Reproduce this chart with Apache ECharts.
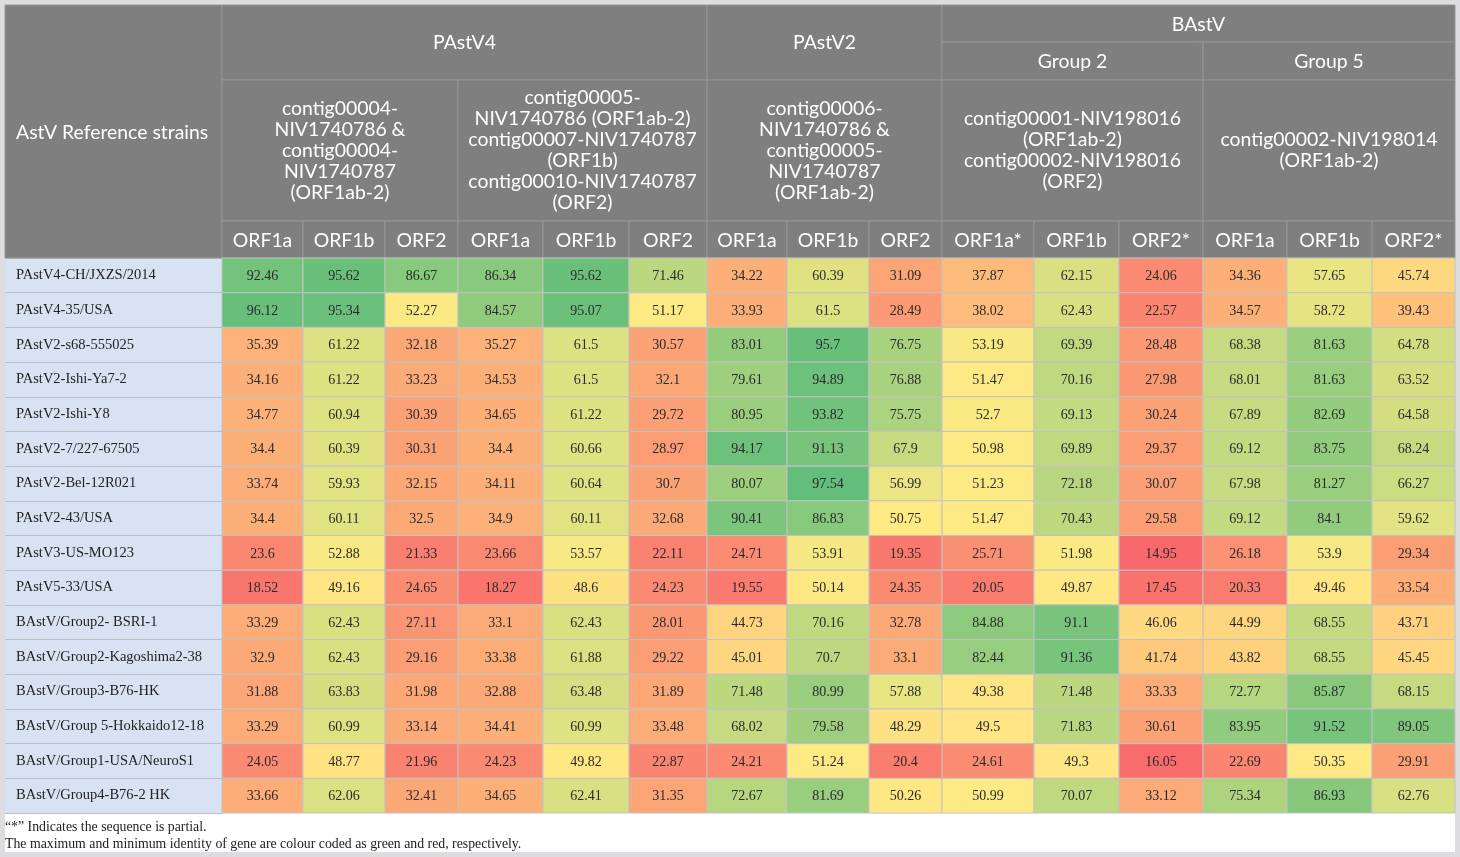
<!DOCTYPE html>
<html>
<head>
<meta charset="utf-8">
<script src="https://cdn.jsdelivr.net/npm/echarts@6/dist/echarts.min.js"></script>
<style>
html,body{margin:0;padding:0;background:#dddde0;}
#chart{width:1460px;height:857px;}
</style>
</head>
<body>
<div id="chart"></div>
<script>
// ---------- DATA ----------
const strains = [
  'PAstV4-CH/JXZS/2014','PAstV4-35/USA','PAstV2-s68-555025','PAstV2-Ishi-Ya7-2',
  'PAstV2-Ishi-Y8','PAstV2-7/227-67505','PAstV2-Bel-12R021','PAstV2-43/USA',
  'PAstV3-US-MO123','PAstV5-33/USA','BAstV/Group2- BSRI-1','BAstV/Group2-Kagoshima2-38',
  'BAstV/Group3-B76-HK','BAstV/Group 5-Hokkaido12-18','BAstV/Group1-USA/NeuroS1','BAstV/Group4-B76-2 HK'
];
const genes = ['ORF1a','ORF1b','ORF2','ORF1a','ORF1b','ORF2','ORF1a','ORF1b','ORF2',
  'ORF1a*','ORF1b','ORF2*','ORF1a','ORF1b','ORF2*'];
const virusGroups = ['PAstV4','PAstV2','BAstV'];
const subGroups = ['Group 2','Group 5'];
const contigs = [
  'contig00004-\nNIV1740786 &\ncontig00004-\nNIV1740787\n(ORF1ab-2)',
  'contig00005-\nNIV1740786 (ORF1ab-2)\ncontig00007-NIV1740787\n(ORF1b)\ncontig00010-NIV1740787\n(ORF2)',
  'contig00006-\nNIV1740786 &\ncontig00005-\nNIV1740787\n(ORF1ab-2)',
  'contig00001-NIV198016\n(ORF1ab-2)\ncontig00002-NIV198016\n(ORF2)',
  'contig00002-NIV198014\n(ORF1ab-2)'
];
const firstHeader = 'AstV Reference strains';
const notes = ['\u201c*\u201d Indicates the sequence is partial.',
  'The maximum and minimum identity of gene are colour coded as green and red, respectively.'];

const row01 = [92.46,95.62,86.67,86.34,95.62,71.46,34.22,60.39,31.09,37.87,62.15,24.06,34.36,57.65,45.74];
const row02 = [96.12,95.34,52.27,84.57,95.07,51.17,33.93,61.5,28.49,38.02,62.43,22.57,34.57,58.72,39.43];
const row03 = [35.39,61.22,32.18,35.27,61.5,30.57,83.01,95.7,76.75,53.19,69.39,28.48,68.38,81.63,64.78];
const row04 = [34.16,61.22,33.23,34.53,61.5,32.1,79.61,94.89,76.88,51.47,70.16,27.98,68.01,81.63,63.52];
const row05 = [34.77,60.94,30.39,34.65,61.22,29.72,80.95,93.82,75.75,52.7,69.13,30.24,67.89,82.69,64.58];
const row06 = [34.4,60.39,30.31,34.4,60.66,28.97,94.17,91.13,67.9,50.98,69.89,29.37,69.12,83.75,68.24];
const row07 = [33.74,59.93,32.15,34.11,60.64,30.7,80.07,97.54,56.99,51.23,72.18,30.07,67.98,81.27,66.27];
const row08 = [34.4,60.11,32.5,34.9,60.11,32.68,90.41,86.83,50.75,51.47,70.43,29.58,69.12,84.1,59.62];
const row09 = [23.6,52.88,21.33,23.66,53.57,22.11,24.71,53.91,19.35,25.71,51.98,14.95,26.18,53.9,29.34];
const row10 = [18.52,49.16,24.65,18.27,48.6,24.23,19.55,50.14,24.35,20.05,49.87,17.45,20.33,49.46,33.54];
const row11 = [33.29,62.43,27.11,33.1,62.43,28.01,44.73,70.16,32.78,84.88,91.1,46.06,44.99,68.55,43.71];
const row12 = [32.9,62.43,29.16,33.38,61.88,29.22,45.01,70.7,33.1,82.44,91.36,41.74,43.82,68.55,45.45];
const row13 = [31.88,63.83,31.98,32.88,63.48,31.89,71.48,80.99,57.88,49.38,71.48,33.33,72.77,85.87,68.15];
const row14 = [33.29,60.99,33.14,34.41,60.99,33.48,68.02,79.58,48.29,49.5,71.83,30.61,83.95,91.52,89.05];
const row15 = [24.05,48.77,21.96,24.23,49.82,22.87,24.21,51.24,20.4,24.61,49.3,16.05,22.69,50.35,29.91];
const row16 = [33.66,62.06,32.41,34.65,62.41,31.35,72.67,81.69,50.26,50.99,70.07,33.12,75.34,86.93,62.76];
const rows = [row01,row02,row03,row04,row05,row06,row07,row08,row09,row10,row11,row12,row13,row14,row15,row16];

// ---------- LAYOUT (pixels) ----------
const colWidths = [81,82,73,85,86,78,80,82,73,92,85,84,84,85,83];
const L = 222, R = 1455, TOP = 5, DATA_TOP = 258, DATA_BOT = 813, OUT = 5;
const HEAD_Y = [5, 42, 80, 221, 258];
const colEdges = [0];
colWidths.forEach(w => colEdges.push(colEdges[colEdges.length-1] + w));
const X = i => L + colEdges[i];

// ---------- build series data ----------
const cells = [];
const allVals = [];
rows.forEach((r, ri) => r.forEach((v, ci) => { cells.push([ci, ri, v]); allVals.push(v); }));
const sorted = allVals.slice().sort((a,b)=>a-b);
const vmin = sorted[0], vmax = sorted[sorted.length-1];
const n = sorted.length;
const median = n % 2 ? sorted[(n-1)/2] : (sorted[n/2-1] + sorted[n/2]) / 2;

// 3-colour scale red - yellow - green (yellow at median)
function hex(c){return [parseInt(c.slice(1,3),16),parseInt(c.slice(3,5),16),parseInt(c.slice(5,7),16)];}
const cR = hex('#F8696B'), cY = hex('#FFEB84'), cG = hex('#63BE7B');
const fMid = (median - vmin) / (vmax - vmin);
const stops = [];
const NS = 60;
for (let i = 0; i <= NS; i++) {
  const f = i / NS;
  let a, b, t;
  if (f <= fMid) { a = cR; b = cY; t = f / fMid; } else { a = cY; b = cG; t = (f - fMid) / (1 - fMid); }
  const c = a.map((x, k) => Math.round(x + (b[k] - x) * t));
  stops.push('rgb(' + c.join(',') + ')');
}

// ---------- header graphics ----------
const HEAD_BG = '#7f7f7f', HEAD_LINE = '#969696';
const headFont = '19.4px Lato';
const g = [];
g.push({type:'rect', shape:{x:OUT, y:OUT, width:1460-2*OUT, height:852-OUT}, style:{fill:'#ffffff'}, z:0});
g.push({type:'rect', shape:{x:OUT, y:DATA_TOP, width:L-OUT, height:DATA_BOT-DATA_TOP}, style:{fill:'#d9e2f3'}, z:0});
function cell(x, y, w, h, text, opts) {
  opts = opts || {};
  g.push({type:'rect', shape:{x:x, y:y, width:w, height:h}, style:{fill:HEAD_BG, stroke:HEAD_LINE, lineWidth:1}, z:1});
  g.push({type:'text', z:2, style:{
    text:text, x: opts.left ? x + 11 : x + w/2, y: y + h/2 + (opts.dy || 0),
    fill:'#ffffff', font: headFont, lineHeight:21,
    align: opts.left ? 'left' : 'center', textAlign: opts.left ? 'left' : 'center',
    verticalAlign:'middle', textVerticalAlign:'middle'}});
}
cell(OUT, TOP, L-OUT, DATA_TOP-TOP, firstHeader, {left:true, dy:1});
cell(X(0), HEAD_Y[0], X(6)-X(0), HEAD_Y[2]-HEAD_Y[0], virusGroups[0]);
cell(X(6), HEAD_Y[0], X(9)-X(6), HEAD_Y[2]-HEAD_Y[0], virusGroups[1]);
cell(X(9), HEAD_Y[0], X(15)-X(9), HEAD_Y[1]-HEAD_Y[0], virusGroups[2], {dy:1});
cell(X(9), HEAD_Y[1], X(12)-X(9), HEAD_Y[2]-HEAD_Y[1], subGroups[0], {dy:1});
cell(X(12), HEAD_Y[1], X(15)-X(12), HEAD_Y[2]-HEAD_Y[1], subGroups[1], {dy:1});
contigs.forEach((t, i) => cell(X(3*i), HEAD_Y[2], X(3*i+3)-X(3*i), HEAD_Y[3]-HEAD_Y[2], t, {dy:0}));
genes.forEach((t, i) => cell(X(i), HEAD_Y[3], X(i+1)-X(i), HEAD_Y[4]-HEAD_Y[3], t, {dy:1}));
notes.forEach((t, i) => g.push({type:'text', z:2, style:{text:t, x:OUT, y:827 + i*17,
  fill:'#222222', font:'13.8px "Liberation Serif"', align:'left', textAlign:'left',
  verticalAlign:'middle', textVerticalAlign:'middle'}}));

// ---------- chart ----------
const chart = echarts.init(document.getElementById('chart'), null, {renderer:'canvas'});
chart.setOption({
  backgroundColor:'#dddde0',
  animation:false,
  grid:{left:L, right:1460-R, top:DATA_TOP, bottom:857-DATA_BOT, containLabel:false},
  xAxis:{type:'value', min:0, max:colEdges[colEdges.length-1], show:false},
  yAxis:{type:'category', data:strains, inverse:true,
    axisLine:{show:true, lineStyle:{color:'#b5b5b5'}},
    axisTick:{show:true, length:L-OUT, lineStyle:{color:'#b9bec9'}},
    axisLabel:{interval:0, align:'left', margin:L-16, color:'#222222',
      fontFamily:'Liberation Serif', fontSize:14.5, padding:[4,0,0,0]},
    splitLine:{show:false}},
  visualMap:{show:false, type:'continuous', dimension:2, seriesIndex:0,
    min:vmin, max:vmax, inRange:{color:stops}},
  graphic:{elements:g},
  series:[{
    type:'custom', data:cells, z:3,
    renderItem:function(params, api){
      const c = api.value(0), r = api.value(1), v = api.value(2);
      const p0 = api.coord([colEdges[c], r]);
      const p1 = api.coord([colEdges[c+1], r]);
      const h = api.size([0, 1])[1];
      return {type:'group', children:[
        {type:'rect', shape:{x:p0[0], y:p0[1]-h/2, width:p1[0]-p0[0], height:h},
          style:{fill:api.visual('color'), stroke:'#c2c2c2', lineWidth:1}},
        {type:'text', style:{text:String(v), x:(p0[0]+p1[0])/2, y:p0[1]+1,
          fill:'#2a2a2a', font:'14px "Liberation Serif"',
          align:'center', textAlign:'center', verticalAlign:'middle', textVerticalAlign:'middle'}}
      ]};
    }
  }]
});
</script>
</body>
</html>
